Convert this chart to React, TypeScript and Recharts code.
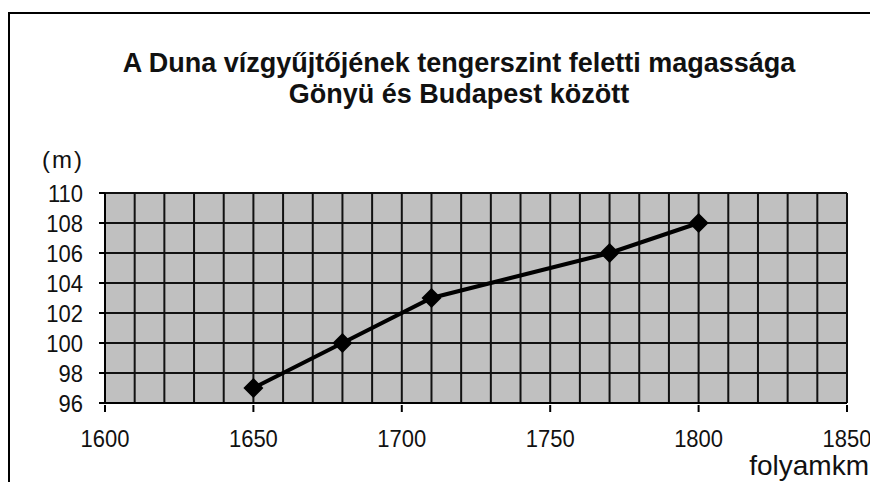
import React from "react";
import { LineChart, Line, XAxis, YAxis, CartesianGrid } from "recharts";

// folyamkm -> tengerszint feletti magasság (m)
const kmValues = [1650, 1680, 1710, 1770, 1800];
const heightValues = [97, 100, 103, 106, 108];

// grid every 10 km, labels every 50 km
const xTicks = [
  1600, 1610, 1620, 1630, 1640, 1650, 1660, 1670, 1680, 1690, 1700, 1710, 1720,
  1730, 1740, 1750, 1760, 1770, 1780, 1790, 1800, 1810, 1820, 1830, 1840, 1850,
];
const xLabels = [1600, 1650, 1700, 1750, 1800, 1850];
const yTicks = [96, 98, 100, 102, 104, 106, 108, 110];

const titleLines = [
  "A Duna vízgyűjtőjének tengerszint feletti magassága",
  "Gönyü és Budapest között",
];

const data = kmValues.map((km, i) => ({ km, h: heightValues[i] }));

const FONT = "'Liberation Sans', Arial, sans-serif";

const XTick = (props: any) => {
  const { x, y, payload } = props;
  if (!xLabels.includes(payload.value)) return <g />;
  return (
    <g>
      <line x1={x} x2={x} y1={y} y2={y + 7} stroke="#000" strokeWidth={2} />
      <text
        x={x}
        y={y + 42}
        textAnchor="middle"
        fontSize={22}
        fontFamily={FONT}
        fill="#111"
        transform={`translate(0 ${y + 42}) scale(1 1.1) translate(0 ${-(y + 42)})`}
      >
        {payload.value}
      </text>
    </g>
  );
};

const YTick = (props: any) => {
  const { x, y, payload } = props;
  return (
    <text
      x={x}
      y={y + 8}
      textAnchor="end"
      fontSize={22}
      fontFamily={FONT}
      fill="#111"
      transform={`translate(0 ${y}) scale(1 1.1) translate(0 ${-y})`}
    >
      {payload.value}
    </text>
  );
};

const Diamond = (props: any) => {
  const { cx, cy, index } = props;
  const r = 10;
  return (
    <path
      key={`d-${index}`}
      d={`M${cx},${cy - r} L${cx + r},${cy} L${cx},${cy + r} L${cx - r},${cy} Z`}
      fill="#000"
    />
  );
};

export default function App() {
  return (
    <div style={{ position: "absolute", left: 0, top: 0, width: 870, height: 482, background: "#fff", overflow: "hidden" }}>
      <div style={{ position: "absolute", left: 8, top: 12, width: 880, height: 490, borderLeft: "2px solid #000", borderTop: "2px solid #000" }} />
      <div style={{ position: "absolute", left: 0, top: 0 }}>
        <LineChart width={870} height={482} data={data} margin={{ top: 193, right: 23, left: 0, bottom: 0 }}>
          <CartesianGrid fill="#c0c0c0" stroke="#111" strokeWidth={2} strokeOpacity={1} />
          <XAxis
            dataKey="km"
            type="number"
            domain={[1600, 1850]}
            ticks={xTicks}
            interval={0}
            height={79}
            tickSize={0}
            tickLine={false}
            tick={<XTick />}
            axisLine={{ stroke: "#000", strokeWidth: 2 }}
          />
          <YAxis
            dataKey="h"
            type="number"
            domain={[96, 110]}
            ticks={yTicks}
            interval={0}
            width={105}
            tickSize={6}
            tickMargin={16}
            tickLine={{ stroke: "#000", strokeWidth: 2 }}
            axisLine={{ stroke: "#000", strokeWidth: 2 }}
            tick={<YTick />}
          />
          <Line
            dataKey="h"
            stroke="#000"
            strokeWidth={4}
            dot={Diamond}
            activeDot={false}
            isAnimationActive={false}
          />
        </LineChart>
      </div>
      <svg width={870} height={482} style={{ position: "absolute", left: 0, top: 0, pointerEvents: "none" }}>
        {titleLines.map((t, i) => (
          <text key={t} x={459} y={72 + i * 31} textAnchor="middle" fontSize={27} fontWeight="bold" fontFamily={FONT} fill="#111">
            {t}
          </text>
        ))}
        <text x={42} y={168} fontSize={24} letterSpacing={2} fontFamily={FONT} fill="#111">(m)</text>
        <text x={869} y={475} textAnchor="end" fontSize={28} fontFamily={FONT} fill="#111">folyamkm</text>
      </svg>
    </div>
  );
}
